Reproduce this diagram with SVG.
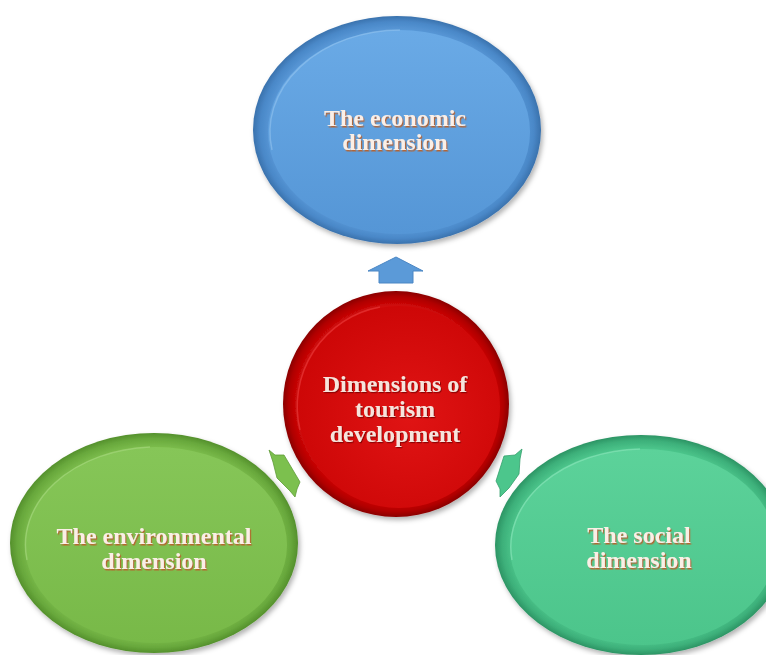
<svg xmlns="http://www.w3.org/2000/svg" width="766" height="655" viewBox="0 0 766 655">
<defs>
<style>
.lbl{font-family:"Liberation Serif","Times New Roman",serif;font-weight:bold;font-size:24px;text-anchor:middle;fill:#fbefe6;filter:url(#tshadow)}
.lblr{font-family:"Liberation Serif","Times New Roman",serif;font-weight:bold;font-size:24px;text-anchor:middle;fill:#f7e4dc;filter:url(#tshadowr)}
</style>
<filter id="tshadow" x="-10%" y="-30%" width="120%" height="160%">
<feDropShadow dx="1.2" dy="1.5" stdDeviation="0.6" flood-color="#b8622a" flood-opacity="0.95"/>
</filter>
<filter id="tshadowr" x="-10%" y="-30%" width="120%" height="160%">
<feDropShadow dx="1" dy="1.2" stdDeviation="0.6" flood-color="#7a0000" flood-opacity="0.8"/>
</filter>
<filter id="drop" x="-10%" y="-10%" width="125%" height="125%">
<feDropShadow dx="2" dy="3" stdDeviation="2.5" flood-color="#000" flood-opacity="0.3"/>
</filter>
<radialGradient id="gBlueRim" cx="50%" cy="50%" r="50%">
<stop offset="0.85" stop-color="#5d9ddc"/>
<stop offset="0.95" stop-color="#4a88c8"/>
<stop offset="1" stop-color="#3a72ad"/>
</radialGradient>
<linearGradient id="gBlue" x1="0" y1="0" x2="0" y2="1">
<stop offset="0" stop-color="#6aaae6"/>
<stop offset="1" stop-color="#5596d6"/>
</linearGradient>
<radialGradient id="gRedRim" cx="50%" cy="50%" r="50%">
<stop offset="0.86" stop-color="#d40a0a"/>
<stop offset="0.95" stop-color="#b00000"/>
<stop offset="1" stop-color="#8a0000"/>
</radialGradient>
<radialGradient id="gRed" cx="55%" cy="55%" r="60%">
<stop offset="0" stop-color="#e01414"/>
<stop offset="1" stop-color="#cc0606"/>
</radialGradient>
<radialGradient id="gGreenRim" cx="50%" cy="50%" r="50%">
<stop offset="0.86" stop-color="#7ebf4e"/>
<stop offset="0.95" stop-color="#68a83c"/>
<stop offset="1" stop-color="#54902c"/>
</radialGradient>
<linearGradient id="gGreen" x1="0" y1="0" x2="0" y2="1">
<stop offset="0" stop-color="#86c658"/>
<stop offset="1" stop-color="#78b948"/>
</linearGradient>
<radialGradient id="gTealRim" cx="50%" cy="50%" r="50%">
<stop offset="0.86" stop-color="#4fca8f"/>
<stop offset="0.95" stop-color="#3db07a"/>
<stop offset="1" stop-color="#2c9464"/>
</radialGradient>
<linearGradient id="gTeal" x1="0" y1="0" x2="0" y2="1">
<stop offset="0" stop-color="#5cd29a"/>
<stop offset="1" stop-color="#4cc58b"/>
</linearGradient>
</defs>

<g id="economic">
<ellipse cx="397" cy="130" rx="144" ry="114" fill="url(#gBlueRim)" filter="url(#drop)"/>
<ellipse cx="399" cy="132" rx="131" ry="102" fill="url(#gBlue)"/>
<path d="M 272 150 A 131 102 0 0 1 400 30" fill="none" stroke="#9ccaf2" stroke-width="1.5" opacity="0.5"/>
<text class="lbl" x="395" y="126">The economic</text>
<text class="lbl" x="395" y="150">dimension</text>
</g>

<g id="center">
<circle cx="396" cy="404" r="113" fill="url(#gRedRim)" filter="url(#drop)"/>
<circle cx="399" cy="407" r="101" fill="url(#gRed)"/>
<path d="M 300 430 A 101 101 0 0 1 380 307" fill="none" stroke="#f04848" stroke-width="1.5" opacity="0.5"/>
<text class="lblr" x="395" y="392">Dimensions of</text>
<text class="lblr" x="395" y="417">tourism</text>
<text class="lblr" x="395" y="442">development</text>
</g>

<g id="environmental">
<ellipse cx="154" cy="543" rx="144" ry="110" fill="url(#gGreenRim)" filter="url(#drop)"/>
<ellipse cx="156" cy="545" rx="131" ry="98" fill="url(#gGreen)"/>
<path d="M 27 560 A 131 98 0 0 1 150 447" fill="none" stroke="#b2e08c" stroke-width="1.5" opacity="0.5"/>
<text class="lbl" x="154" y="544">The environmental</text>
<text class="lbl" x="154" y="569">dimension</text>
</g>

<g id="social">
<ellipse cx="641" cy="545" rx="146" ry="110" fill="url(#gTealRim)" filter="url(#drop)"/>
<ellipse cx="643" cy="547" rx="133" ry="98" fill="url(#gTeal)"/>
<path d="M 512 560 A 133 98 0 0 1 640 449" fill="none" stroke="#98ecc4" stroke-width="1.5" opacity="0.5"/>
<text class="lbl" x="639" y="543">The social</text>
<text class="lbl" x="639" y="568">dimension</text>
</g>

<g id="connectors">
<polygon points="396,257 423,271 413,271 413,283 379,283 379,271 368,271" fill="#5b9ad8" stroke="#4a86c4" stroke-width="1"/>
<polygon points="269,450 275,455 284,455 300,482 297,489 295,497 290,491 277,478 273,462" fill="#7cc04e" stroke="#5f9c38" stroke-width="0.8"/>
<polygon points="522,449 520,459 519,474 509,488 500,497 500,489 496,481 504,456 515,455" fill="#4cc68c" stroke="#35a06c" stroke-width="0.8"/>
</g>
</svg>
